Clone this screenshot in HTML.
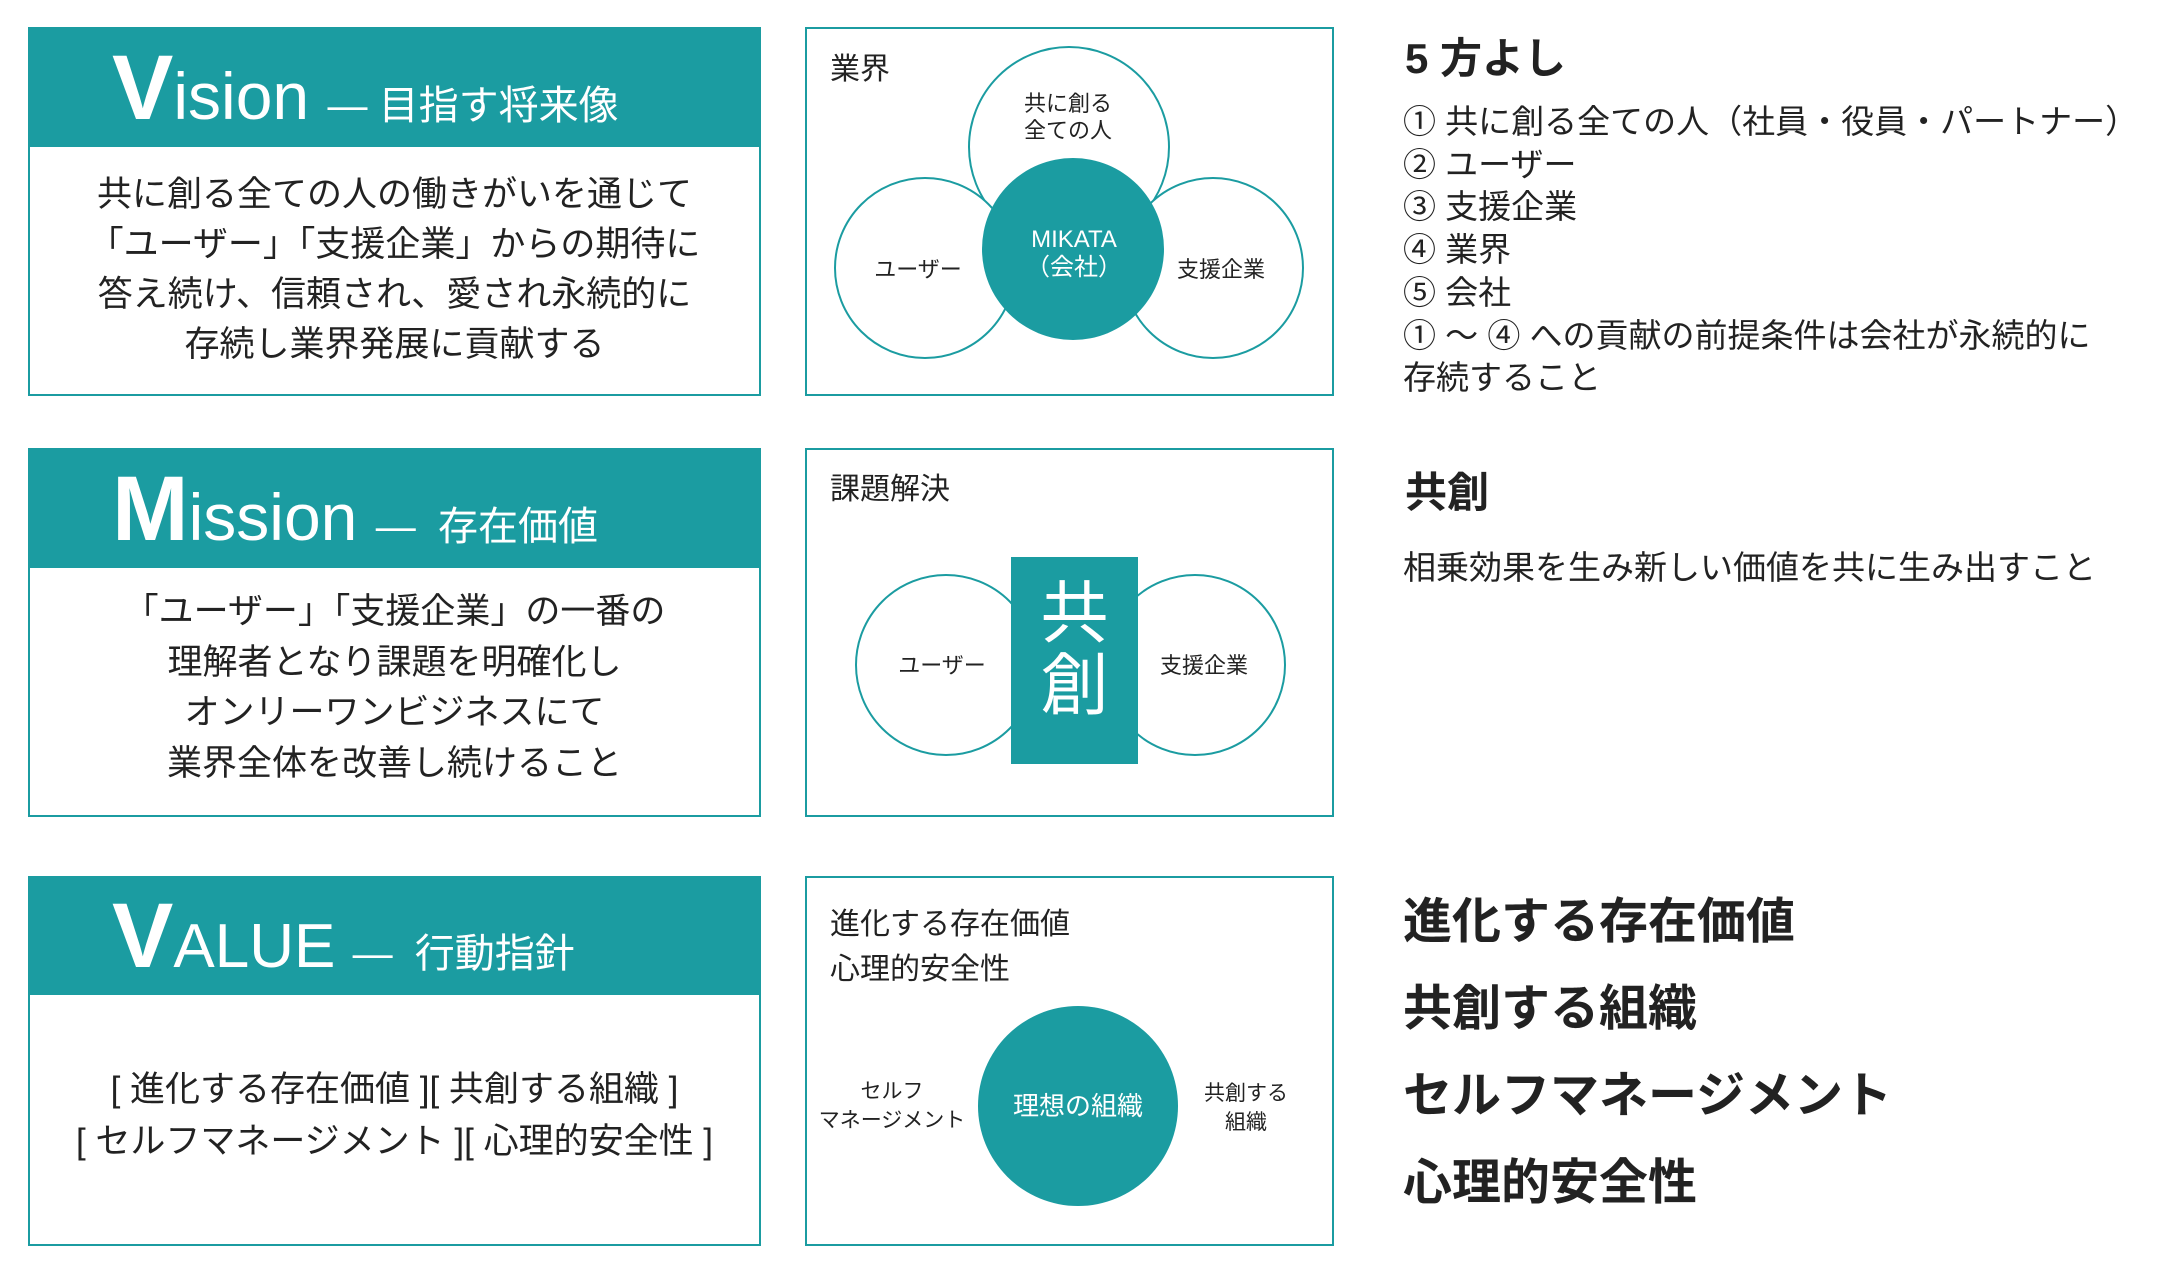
<!DOCTYPE html>
<html><head><meta charset="utf-8"><style>
body{margin:0;width:2184px;height:1267px;background:#fff;position:relative;overflow:hidden;font-family:"Liberation Sans","Noto Sans CJK JP",sans-serif;color:#222}
.a{position:absolute;white-space:nowrap}
.box{position:absolute;border:2px solid #1b9ca1;box-sizing:border-box;background:#fff}
.hd{position:absolute;background:#1b9ca1}
.c{text-align:center}
.w{color:#fff}
.b{font-weight:bold}
</style></head><body>
<!-- left boxes -->
<div class="box" style="left:28px;top:27px;width:733px;height:369px"></div>
<div class="hd" style="left:28px;top:27px;width:733px;height:120px"></div>
<div class="box" style="left:28px;top:448px;width:733px;height:369px"></div>
<div class="hd" style="left:28px;top:448px;width:733px;height:120px"></div>
<div class="box" style="left:28px;top:876px;width:733px;height:370px"></div>
<div class="hd" style="left:28px;top:876px;width:733px;height:119px"></div>
<!-- middle boxes -->
<div class="box" style="left:805px;top:27px;width:529px;height:369px"></div>
<div class="box" style="left:805px;top:448px;width:529px;height:369px"></div>
<div class="box" style="left:805px;top:876px;width:529px;height:370px"></div>

<!-- headers -->
<div class="a w" style="left:112px;top:38px;line-height:100px;font-size:66px"><span class="b" style="font-size:92px">V</span>ision <span style="font-size:40px">— 目指す将来像</span></div>
<div class="a w" style="left:112px;top:459px;line-height:100px;font-size:66px"><span class="b" style="font-size:92px">M</span>ission <span style="font-size:40px">—&nbsp; 存在価値</span></div>
<div class="a w" style="left:112px;top:886px;line-height:100px;font-size:62px"><span class="b" style="font-size:92px">V</span>ALUE <span style="font-size:40px">—&nbsp; 行動指針</span></div>

<!-- body texts -->
<div class="a c" style="left:28px;width:733px;top:170px;font-size:35px;line-height:50px">共に創る全ての人の働きがいを通じて<br>「ユーザー」「支援企業」からの期待に<br>答え続け、信頼され、愛され永続的に<br>存続し業界発展に貢献する</div>
<div class="a c" style="left:28px;width:733px;top:587px;font-size:35px;line-height:50.5px">「ユーザー」「支援企業」の一番の<br>理解者となり課題を明確化し<br>オンリーワンビジネスにて<br>業界全体を改善し続けること</div>
<div class="a c" style="left:28px;width:733px;top:1064px;font-size:35px;line-height:52px">[ 進化する存在価値 ][ 共創する組織 ]<br>[ セルフマネージメント ][ 心理的安全性 ]</div>

<!-- middle diagrams -->
<svg class="a" style="left:0;top:0" width="2184" height="1267">
<g fill="#fff" stroke="#1b9ca1" stroke-width="2">
<circle cx="1069" cy="147" r="100"/>
<circle cx="925" cy="268" r="90"/>
<circle cx="1213" cy="268" r="90"/>
<circle cx="946" cy="665" r="90"/>
<circle cx="1195" cy="665" r="90"/>
</g>
<circle cx="1073" cy="249" r="91" fill="#1b9ca1"/>
<rect x="1011" y="557" width="127" height="207" fill="#1b9ca1"/>
<circle cx="1078" cy="1106" r="100" fill="#1b9ca1"/>
</svg>
<div class="a" style="left:830px;top:52px;font-size:30px;line-height:36px">業界</div>
<div class="a c" style="left:1018px;width:100px;top:90px;font-size:22px;line-height:27px">共に創る<br>全ての人</div>
<div class="a c" style="left:858px;width:120px;top:256px;font-size:22px;line-height:28px">ユーザー</div>
<div class="a c" style="left:1161px;width:120px;top:256px;font-size:22px;line-height:28px">支援企業</div>
<div class="a c w" style="left:1014px;width:120px;top:226px;font-size:24px;line-height:28px">MIKATA<br>（会社）</div>

<div class="a" style="left:830px;top:472px;font-size:30px;line-height:36px">課題解決</div>
<div class="a c" style="left:882px;width:120px;top:652px;font-size:22px;line-height:28px">ユーザー</div>
<div class="a c" style="left:1144px;width:120px;top:652px;font-size:22px;line-height:28px">支援企業</div>
<div class="a c w" style="left:1011px;width:127px;top:578px;font-size:68px;line-height:72px">共<br>創</div>

<div class="a" style="left:830px;top:902px;font-size:30px;line-height:45px">進化する存在価値<br>心理的安全性</div>
<div class="a c w" style="left:1003px;width:150px;top:1091px;font-size:26px;line-height:30px">理想の組織</div>
<div class="a c" style="left:812px;width:160px;top:1077px;font-size:21px;line-height:29px">セルフ<br>マネージメント</div>
<div class="a c" style="left:1186px;width:120px;top:1079px;font-size:21px;line-height:29px">共創する<br>組織</div>

<!-- right column -->
<div class="a b" style="left:1405px;top:35px;font-size:42px;line-height:48px">5 方よし</div>
<div class="a" style="left:1403px;top:101px;font-size:33px;line-height:42.7px">① 共に創る全ての人（社員・役員・パートナー）<br>② ユーザー<br>③ 支援企業<br>④ 業界<br>⑤ 会社<br>① ～ ④ への貢献の前提条件は会社が永続的に<br>存続すること</div>
<div class="a b" style="left:1405px;top:469px;font-size:42px;line-height:48px">共創</div>
<div class="a" style="left:1403px;top:548px;font-size:33px;line-height:40px">相乗効果を生み新しい価値を共に生み出すこと</div>
<div class="a b" style="left:1403px;top:879px;font-size:49px;line-height:87px">進化する存在価値<br>共創する組織<br>セルフマネージメント<br>心理的安全性</div>
</body></html>
